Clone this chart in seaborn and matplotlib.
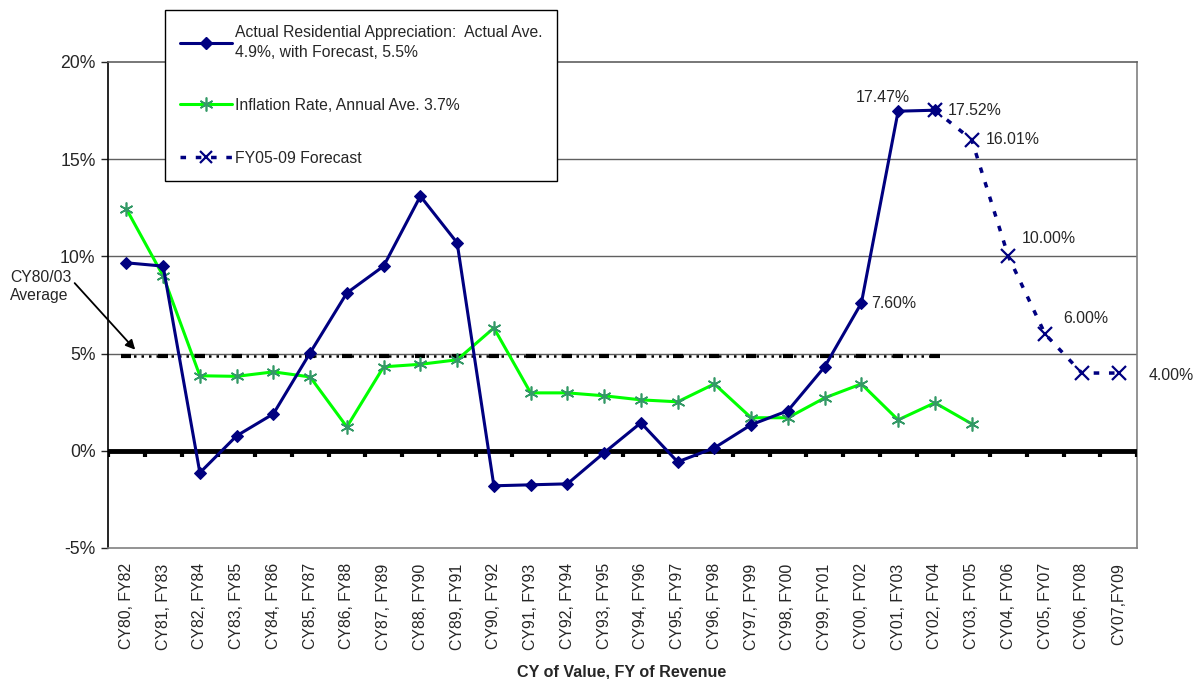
import numpy as np
import pandas as pd
import seaborn as sns
from matplotlib import pyplot as plt
from matplotlib.lines import Line2D

categories = ['CY80, FY82', 'CY81, FY83', 'CY82, FY84', 'CY83, FY85', 'CY84, FY86', 'CY85, FY87',
              'CY86, FY88', 'CY87, FY89', 'CY88, FY90', 'CY89, FY91', 'CY90, FY92', 'CY91, FY93',
              'CY92, FY94', 'CY93, FY95', 'CY94, FY96', 'CY95, FY97', 'CY96, FY98', 'CY97, FY99',
              'CY98, FY00', 'CY99, FY01', 'CY00, FY02', 'CY01, FY03', 'CY02, FY04', 'CY03, FY05',
              'CY04, FY06', 'CY05, FY07', 'CY06, FY08', 'CY07,FY09']

actual = [9.67, 9.5, -1.13, 0.77, 1.9, 5.04, 8.12, 9.5, 13.1, 10.7, -1.8, -1.75, -1.7, -0.1,
          1.44, -0.57, 0.15, 1.34, 2.06, 4.32, 7.60, 17.47, 17.52]
inflation = [12.44, 9.0, 3.86, 3.83, 4.06, 3.8, 1.23, 4.32, 4.45, 4.68, 6.32, 2.98, 2.98, 2.83,
             2.62, 2.52, 3.44, 1.7, 1.7, 2.72, 3.44, 1.59, 2.47, 1.39]
forecast = [17.52, 16.01, 10.00, 6.00, 4.00, 4.00]
average = 4.9
n_average = 23

label_actual = 'Actual Residential Appreciation:  Actual Ave.\n4.9%, with Forecast, 5.5%'
label_inflation = 'Inflation Rate, Annual Ave. 3.7%'
label_forecast = 'FY05-09 Forecast'

NAVY = '#000080'
LIME = '#00FF00'
STAR = '#339966'


def main():
    pos = np.arange(len(categories))
    df_act = pd.DataFrame({'x': pos[:len(actual)], 'y': actual})
    df_inf = pd.DataFrame({'x': pos[:len(inflation)], 'y': inflation})
    df_fc = pd.DataFrame({'x': pos[len(categories) - len(forecast):], 'y': forecast})
    df_avg = pd.DataFrame({'x': pos[:n_average], 'y': [average] * n_average})

    sns.set_style('white')
    plt.rcParams['font.family'] = ['Liberation Sans', 'DejaVu Sans']

    fig = plt.figure(figsize=(11.98, 6.79), dpi=100)
    ax = fig.add_axes([108 / 1198, 1 - 548 / 679, 1029 / 1198, 486 / 679])

    for yv in [5, 10, 15]:
        ax.axhline(yv, color='#606060', lw=1.0, zorder=1)

    sns.lineplot(data=df_avg, x='x', y='y', ax=ax, color='black', lw=1.8, linestyle=(0, (1, 2)),
                 marker='_', markersize=7, markeredgewidth=3, markeredgecolor='black', zorder=2)
    ax.axhline(0, color='black', lw=3.5, zorder=3)
    ax.vlines(np.arange(len(categories) + 1) - 0.5, -0.3, 0, color='black', lw=3, zorder=3)

    sns.lineplot(data=df_inf, x='x', y='y', ax=ax, color=LIME, lw=2.2, marker=(6, 2, 0),
                 markersize=10, markeredgecolor=STAR, markeredgewidth=1.2, zorder=4)
    sns.lineplot(data=df_act, x='x', y='y', ax=ax, color=NAVY, lw=2.2, marker='D',
                 markersize=6.5, markeredgecolor=NAVY, zorder=5)
    sns.lineplot(data=df_fc, x='x', y='y', ax=ax, color=NAVY, lw=2.5, linestyle=(0, (1.6, 2.8)),
                 marker='x', markersize=10, markeredgewidth=1.6, markeredgecolor=NAVY, zorder=6)

    ax.set_xlim(-0.5, len(categories) - 0.5)
    ax.set_ylim(-5, 20)
    ax.set_yticks([-5, 0, 5, 10, 15, 20])
    ax.set_yticklabels(['-5%', '0%', '5%', '10%', '15%', '20%'], fontsize=12.7)
    ax.set_xticks(pos)
    ax.set_xticklabels(categories, rotation=90, fontsize=11.4)
    ax.tick_params(axis='x', length=0, pad=11)
    ax.tick_params(axis='y', length=5, width=1, direction='out', left=True, pad=4)
    ax.set_xlabel('')
    ax.set_ylabel('')
    for side in ['top', 'right', 'bottom']:
        ax.spines[side].set_color('#808080')
        ax.spines[side].set_linewidth(1.2)
    ax.spines['left'].set_color('black')
    ax.spines['left'].set_linewidth(1.2)
    ax.spines['top'].set_color('#606060')

    # value labels
    labels = [(20, 7.60, (10, 0), 'left'), (21, 17.47, (-15, 14), 'center'),
              (22, 17.52, (13, 0), 'left'), (23, 16.01, (14, 0), 'left'),
              (24, 10.00, (13, 18), 'left'), (25, 6.00, (18, 16), 'left'),
              (27, 4.00, (30, -2), 'left')]
    for xi, yv, off, ha in labels:
        ax.annotate('%.2f%%' % yv, (xi, yv), xytext=off, textcoords='offset pixels',
                    ha=ha, va='center', fontsize=11.4, annotation_clip=False)

    ax.annotate('CY80/03\nAverage', xy=(0.24, 5.2), xycoords='data',
                xytext=(10 / 1198, 1 - 286 / 679), textcoords='figure fraction',
                ha='left', va='center', fontsize=11.3, linespacing=1.25,
                arrowprops=dict(arrowstyle='-|>', color='black', lw=1.3, mutation_scale=14,
                                relpos=(0.95, 0.8), shrinkA=0, shrinkB=0))

    fig.text(622 / 1198, 1 - 672 / 679, 'CY of Value, FY of Revenue', ha='center', va='center',
             fontsize=11.6, fontweight='bold')

    handles = [Line2D([], [], color=NAVY, lw=2.2, marker='D', markersize=6.5),
               Line2D([], [], color=LIME, lw=2.2, marker=(6, 2, 0), markersize=10,
                      markeredgecolor=STAR, markeredgewidth=1.2),
               Line2D([], [], color=NAVY, lw=2.5, linestyle=(0, (1.6, 2.8)), marker='x',
                      markersize=9, markeredgewidth=1.6)]
    leg = fig.legend(handles, [label_actual, label_inflation, label_forecast],
                     loc='upper left', bbox_to_anchor=(165 / 1198, 1 - 10 / 679),
                     fontsize=11.3, frameon=True, fancybox=False, framealpha=1,
                     edgecolor='black', handlelength=3.3, handletextpad=0.2,
                     labelspacing=2.4, borderpad=0.95, borderaxespad=0)
    leg.get_texts()[0].set_linespacing(1.45)
    leg.get_frame().set_linewidth(1.0)
    leg.set_zorder(10)

    fig.savefig('out.png', dpi=100)


if __name__ == '__main__':
    main()
